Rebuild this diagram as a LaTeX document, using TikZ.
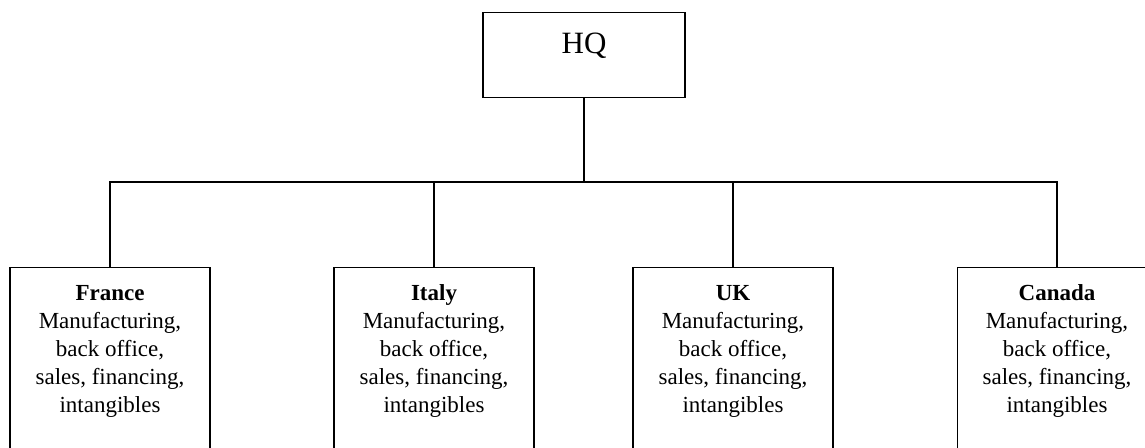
\documentclass[tikz,border=0pt]{standalone}
\usepackage{fontspec}
\setmainfont{Liberation Serif}
\newcommand{\firstline}{\rule{0pt}{17pt}}
\begin{document}
\begin{tikzpicture}[x=1pt,y=-1pt,
  line width=1.3pt,
  hqbox/.style={draw, rectangle, inner sep=0pt, minimum width=202pt,
    text height=41pt, text depth=44pt, font=\fontsize{31}{36}\selectfont},
  unitbox/.style={draw, rectangle, anchor=north, minimum width=200pt,
    minimum height=200pt, inner sep=0pt},
  unittext/.style={anchor=north, inner sep=0pt, align=center,
    font=\fontsize{23}{28}\selectfont},
  link/.style={draw, line width=1.3pt}]
  \clip (0,0) rectangle (1145,447);
  \useasboundingbox (0,0) rectangle (1145,447);

  % head office
  \node[hqbox] (hq) at (584,0) [anchor=north, yshift=-12pt] {HQ};

  % horizontal bus below the head office
  \coordinate (bus) at (584,182);

  % subsidiaries
  \node[unitbox] (fr) at (110,267) {};
  \node[unitbox] (it) at (434,267) {};
  \node[unitbox] (uk) at (733,267) {};
  \node[unitbox, minimum width=260pt, anchor=north west] (ca) at (957,267) {};
  \coordinate (catop) at (1057,267);

  \node[unittext] (frt) at ([yshift=-16pt]fr.north)
    {\firstline\textbf{France}\\Manufacturing,\\back office,\\sales, financing,\\intangibles};
  \node[unittext] (itt) at ([yshift=-16pt]it.north)
    {\firstline\textbf{Italy}\\Manufacturing,\\back office,\\sales, financing,\\intangibles};
  \node[unittext] (ukt) at ([yshift=-16pt]uk.north)
    {\firstline\textbf{UK}\\Manufacturing,\\back office,\\sales, financing,\\intangibles};
  \node[unittext] (cat) at ([yshift=-16pt]catop)
    {\firstline\textbf{Canada}\\Manufacturing,\\back office,\\sales, financing,\\intangibles};

  % connectors
  \draw[link] (hq.south) -- (bus);
  \draw[link] (fr.north) |- (bus);
  \draw[link] (it.north) |- (bus);
  \draw[link] (uk.north) |- (bus);
  \draw[link] (catop) |- (bus);
\end{tikzpicture}
\end{document}
